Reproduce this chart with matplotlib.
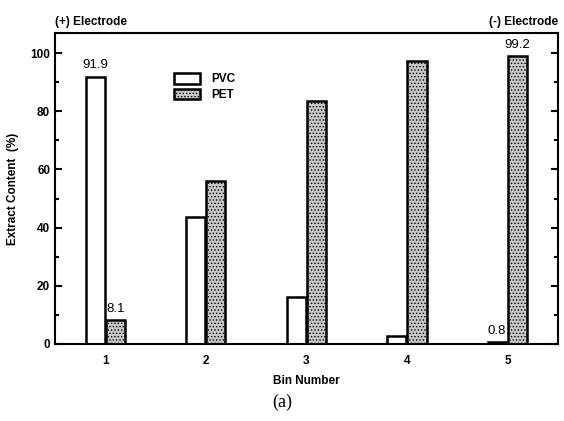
import matplotlib
matplotlib.use("Agg")
import matplotlib.pyplot as plt
from matplotlib.ticker import MultipleLocator
import numpy as np

bins = [1, 2, 3, 4, 5]
pvc = [91.9, 43.8, 16.3, 2.7, 0.8]
pet = [8.1, 56.2, 83.7, 97.3, 99.2]

plt.rcParams['font.family'] = ['Liberation Sans', 'DejaVu Sans']
plt.rcParams['hatch.color'] = '#808080'
plt.rcParams['hatch.linewidth'] = 0.6

fig = plt.figure(figsize=(5.64, 4.21), dpi=100)
ax = fig.add_axes([0.0975, 0.183, 0.8915, 0.739])

x = np.array(bins)
w = 0.19
ax.bar(x - 0.1, pvc, w, color='white', edgecolor='black', linewidth=1.8, label='PVC')
ax.bar(x + 0.1, pet, w, color='#c8c8c8', edgecolor='black', linewidth=1.8,
       hatch='.....', label='PET')

ax.set_xlim(0.5, 5.5)
ax.set_ylim(0, 107)
ax.set_xticks(bins)
ax.yaxis.set_major_locator(MultipleLocator(20))
ax.yaxis.set_minor_locator(MultipleLocator(10))
ax.tick_params(axis='y', which='both', direction='in', left=True, right=True, width=1.5)
ax.tick_params(axis='y', which='major', length=5)
ax.tick_params(axis='y', which='minor', length=3)
ax.tick_params(axis='x', length=0, pad=8)
for lab in ax.get_xticklabels() + ax.get_yticklabels():
    lab.set_fontweight('bold')
    lab.set_fontsize(8.5)
for s in ax.spines.values():
    s.set_linewidth(1.5)

ax.set_xlabel('Bin Number', fontsize=8.5, fontweight='bold', labelpad=6)
ax.set_ylabel('Extract Content  (%)', fontsize=8.5, fontweight='bold', labelpad=8)

ax.text(1 - 0.1, pvc[0] + 2, '91.9', ha='center', va='bottom', fontsize=9.5)
ax.text(1 + 0.1, pet[0] + 2, '8.1', ha='center', va='bottom', fontsize=9.5)
ax.text(5 + 0.1, pet[4] + 1.5, '99.2', ha='center', va='bottom', fontsize=9.5)
ax.text(5 - 0.02, pvc[4] + 1.5, '0.8', ha='right', va='bottom', fontsize=9.5)

leg = ax.legend(loc='upper left', bbox_to_anchor=(0.215, 0.905), frameon=False,
                fontsize=8.5, handlelength=2.2, handleheight=1.0, labelspacing=0.3,
                handletextpad=1.0)
for t in leg.get_texts():
    t.set_fontweight('bold')

fig.text(55 / 564, 1 - 22 / 421, '(+) Electrode', ha='left', va='center',
         fontsize=8.5, fontweight='bold')
fig.text(558 / 564, 1 - 22 / 421, '(-) Electrode', ha='right', va='center',
         fontsize=8.5, fontweight='bold')
fig.text(0.5, 1 - 402 / 421, '(a)', ha='center', va='center', fontsize=13,
         family='Liberation Serif')

fig.savefig('out.png', dpi=100)
